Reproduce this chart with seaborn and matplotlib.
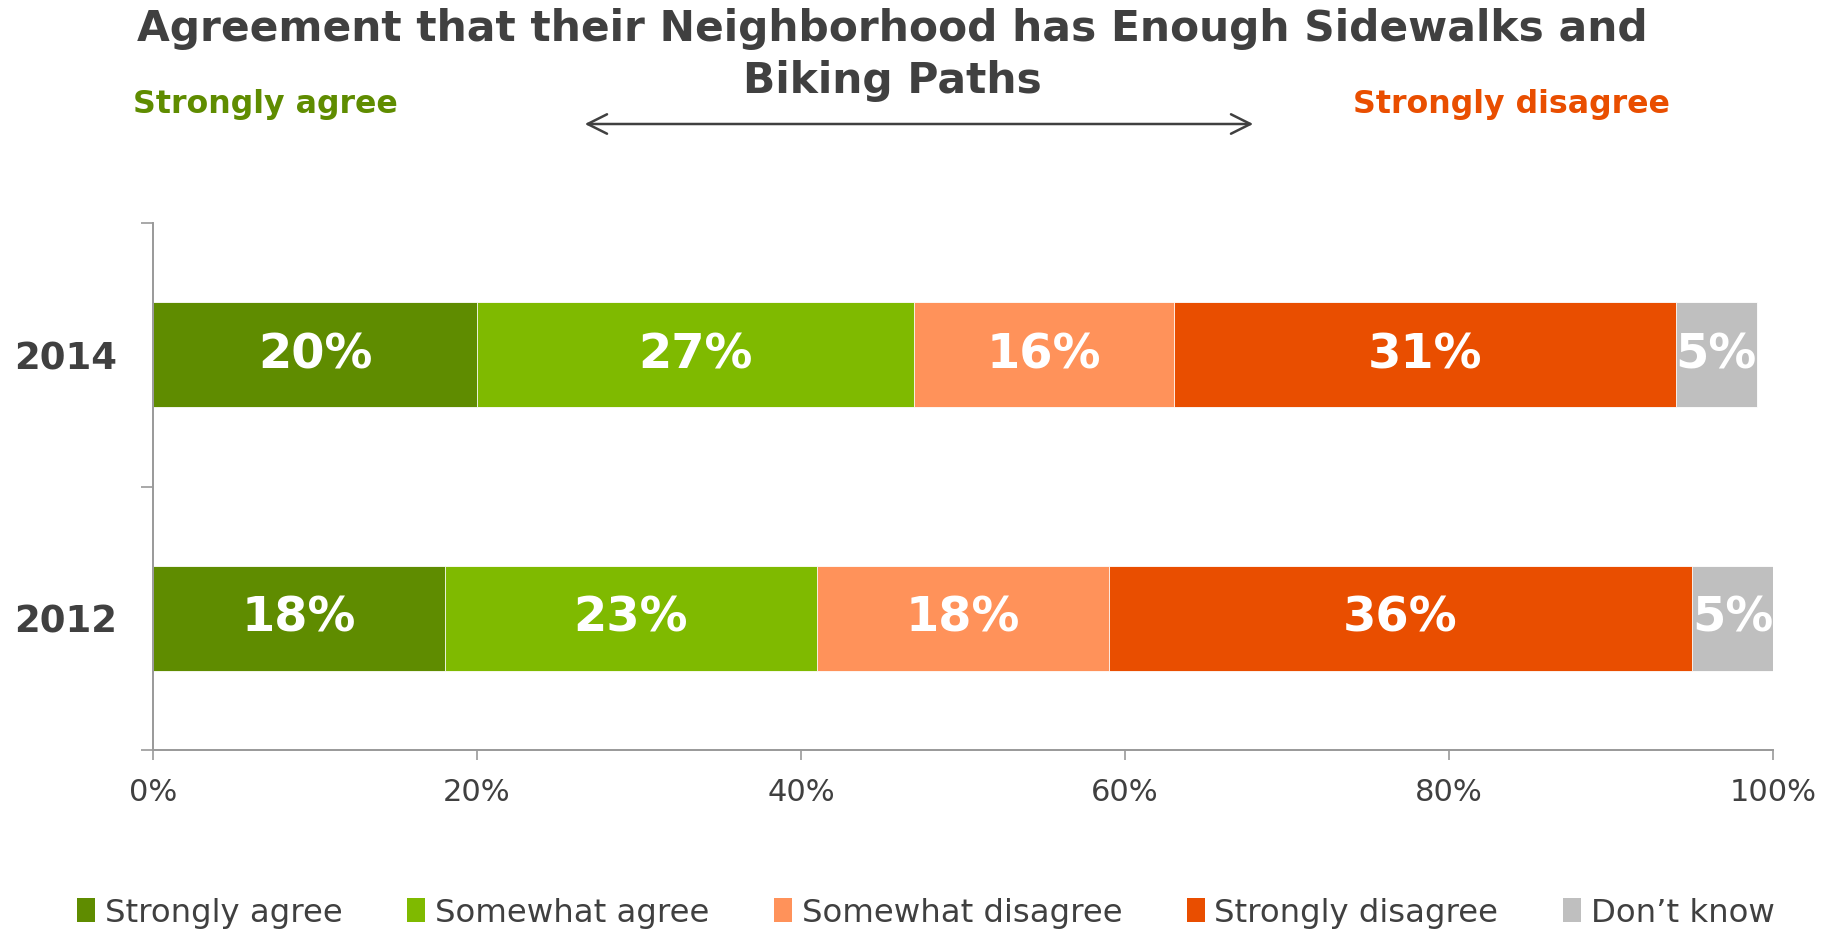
import matplotlib
matplotlib.use("Agg")
import matplotlib.pyplot as plt
import seaborn as sns
import pandas as pd
import numpy as np
from matplotlib.patches import Patch, FancyArrowPatch

# Survey responses (percent)
years = ["2014", "2012"]
responses = ["Strongly agree", "Somewhat agree", "Somewhat disagree",
             "Strongly disagree", "Don\u2019t know"]
strongly_agree = [20, 18]
somewhat_agree = [27, 23]
somewhat_disagree = [16, 18]
strongly_disagree = [31, 36]
dont_know = [5, 5]
colors = ["#5f8c00", "#7fba00", "#ff925a", "#e94e00", "#bfbfbf"]
x_ticks = [0, 20, 40, 60, 80, 100]
x_tick_labels = ["0%", "20%", "40%", "60%", "80%", "100%"]
title_lines = ["Agreement that their Neighborhood has Enough Sidewalks and",
               "Biking Paths"]

sns.set_theme(style="white")
plt.rcParams["font.family"] = ["DejaVu Sans"]

series = [strongly_agree, somewhat_agree, somewhat_disagree, strongly_disagree, dont_know]
vals = np.array(series, dtype=float)          # shape (5, 2)
cum = np.cumsum(vals, axis=0)

fig = plt.figure(figsize=(18.29, 9.30), dpi=100)
ax = fig.add_axes([153 / 1829, 1 - 750 / 930, (1773 - 153) / 1829, (750 - 223) / 930])

# Stacked bars: draw cumulative totals from the outermost segment inward
for i in range(len(responses) - 1, -1, -1):
    df = pd.DataFrame({"year": years, "value": cum[i]})
    sns.barplot(data=df, x="value", y="year", order=years, orient="h",
                color=colors[i], width=0.4, saturation=1, ax=ax,
                edgecolor="white", linewidth=0.6)

# Segment labels
for i in range(len(responses)):
    for j, yr in enumerate(years):
        left = cum[i, j] - vals[i, j]
        ax.text(left + vals[i, j] / 2, j, f"{int(vals[i, j])}%",
                ha="center", va="center", color="white",
                fontsize=34.5, fontweight="bold")

ax.set_xlim(0, 100)
ax.set_ylim(1.5, -0.5)
ax.set_xlabel("")
ax.set_ylabel("")
ax.set_xticks(x_ticks)
ax.set_xticklabels(x_tick_labels, fontsize=22, color="#404040")
ax.set_yticks([0, 1])
ax.set_yticklabels(years, fontsize=26.7, fontweight="bold", color="#404040")
ax.set_yticks([-0.5, 0.5, 1.5], minor=True)
ax.tick_params(axis="y", which="major", length=0, pad=26)
ax.tick_params(axis="y", which="minor", length=8.6, width=1.2, color="#999999", left=True)
ax.tick_params(axis="x", length=7, width=1.2, color="#999999", bottom=True, pad=13)
for side in ["top", "right"]:
    ax.spines[side].set_visible(False)
for side in ["left", "bottom"]:
    ax.spines[side].set_color("#999999")
    ax.spines[side].set_linewidth(1.4)
ax.grid(False)

# Title (two lines) and scale annotations
for k, line in enumerate(title_lines):
    fig.text(892 / 1829, 1 - (29 + 52 * k) / 930, line,
             ha="center", va="center", fontsize=30.5, fontweight="bold",
             color="#404040")
fig.text(133 / 1829, 1 - 104 / 930, "Strongly agree", ha="left", va="center",
         fontsize=22.8, fontweight="bold", color=colors[0])
fig.text(1670 / 1829, 1 - 104 / 930, "Strongly disagree", ha="right", va="center",
         fontsize=22.8, fontweight="bold", color=colors[3])
fig.add_artist(FancyArrowPatch(
    (582 / 1829, 1 - 124 / 930), (1256 / 1829, 1 - 124 / 930),
    transform=fig.transFigure, arrowstyle="<->,head_length=14,head_width=7",
    color="#404040", linewidth=1.8, mutation_scale=1))

# Legend
handles = [Patch(facecolor=c, edgecolor="none") for c in colors]
fig.legend(handles, responses, loc="center", bbox_to_anchor=(926 / 1829, 1 - 913 / 930),
           ncol=5, frameon=False, fontsize=23.3, handlelength=0.55, handleheight=0.75,
           handletextpad=0.3, columnspacing=2.0, labelcolor="#404040")

fig.savefig("out.png", dpi=100)
